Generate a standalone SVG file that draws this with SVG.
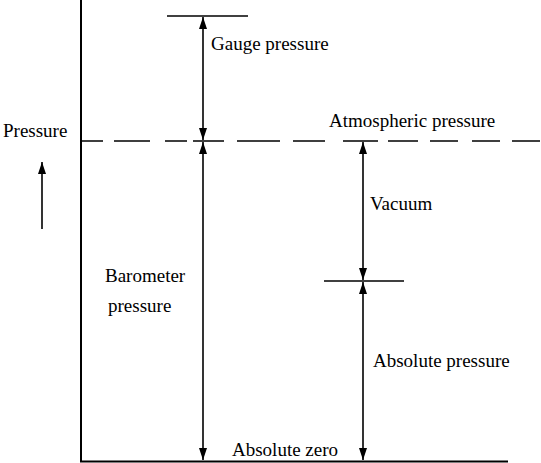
<svg xmlns="http://www.w3.org/2000/svg" width="541" height="463" viewBox="0 0 541 463">
<style>
.ln{stroke:#000;stroke-width:1.6;fill:none}
.ax{stroke:#000;stroke-width:2;fill:none}
.ar{stroke:#000;stroke-width:1.6;fill:none;marker-start:url(#ah);marker-end:url(#ah)}
.t{font-size:19px;fill:#000}
</style>
<defs>
<marker id="ah" viewBox="0 0 12 8" refX="12" refY="4" markerWidth="12" markerHeight="8" markerUnits="userSpaceOnUse" orient="auto-start-reverse">
<path d="M0,0 L12,4 L0,8 Z" fill="#000"/>
</marker>
</defs>
<g id="axes">
<line class="ax" x1="81" y1="0" x2="81" y2="462"/>
<line class="ax" x1="80" y1="461.5" x2="508" y2="461.5"/>
</g>
<g id="atmospheric-line">
<path class="ln" d="M81,141H103M114,141H150M165,141H187M193,141H224M237,141H280M293,141H325M343,141H378M388,141H418M430,141H458M472,141H500M512,141H540"/>
</g>
<g id="gauge-level"><line class="ln" x1="167" y1="16" x2="248" y2="16"/></g>
<g id="vacuum-level"><line class="ln" x1="324" y1="281" x2="404" y2="281"/></g>
<g id="connectors">
<line class="ar" x1="203" y1="17" x2="203" y2="140"/>
<line class="ar" x1="203" y1="142" x2="203" y2="460"/>
<line class="ar" x1="363" y1="142" x2="363" y2="280"/>
<line class="ar" x1="363" y1="282" x2="363" y2="460"/>
<line class="ln" x1="42" y1="229" x2="42" y2="162" style="marker-end:url(#ah)"/>
</g>
<g id="labels" font-family="Liberation Serif, DejaVu Serif, serif">
<text class="t" x="3" y="137">Pressure</text>
<text class="t" x="211" y="50">Gauge pressure</text>
<text class="t" x="329" y="127">Atmospheric pressure</text>
<text class="t" x="370" y="210">Vacuum</text>
<text class="t" x="105" y="282">Barometer</text>
<text class="t" x="108" y="312">pressure</text>
<text class="t" x="373" y="367">Absolute pressure</text>
<text class="t" x="232" y="456">Absolute zero</text>
</g>
</svg>
